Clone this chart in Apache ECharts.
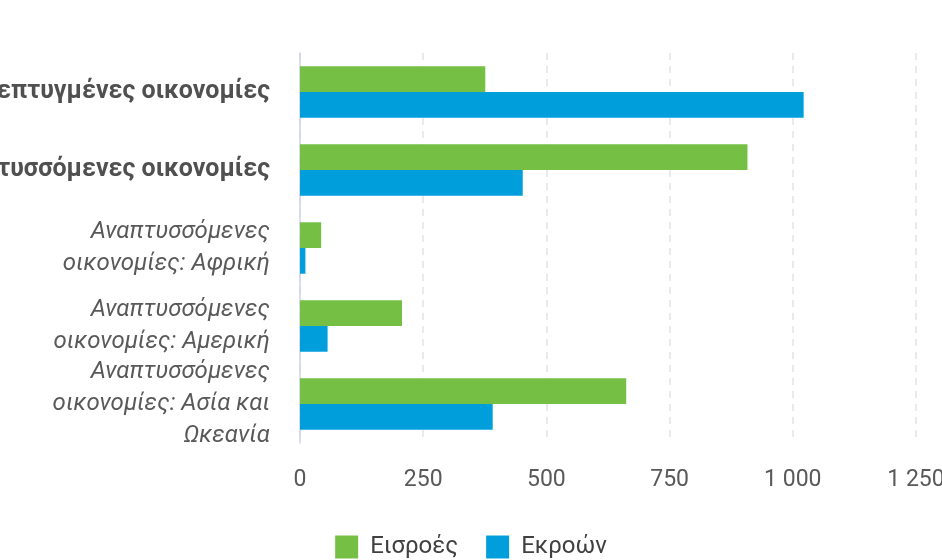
<!DOCTYPE html>
<html>
<head>
<meta charset="utf-8">
<script src="https://cdn.jsdelivr.net/npm/echarts@6/dist/echarts.min.js"></script>
<style>html,body{margin:0;padding:0;background:#fff}#c{width:942px;height:560px}</style>
</head>
<body>
<div id="c"></div>
<script>
const categories = [
  "Ανεπτυγμένες οικονομίες",
  "Αναπτυσσόμενες οικονομίες",
  "Αναπτυσσόμενες\nοικονομίες: Αφρική",
  "Αναπτυσσόμενες\nοικονομίες: Αμερική",
  "Αναπτυσσόμενες\nοικονομίες: Ασία και\nΩκεανία"
];
const boldCategories = [true, true, false, false, false];
const seriesNames = ["Εισροές", "Εκροών"];
const inflows = [376, 908, 43, 207, 662];
const outflows = [1022, 452, 11, 56, 391];
const xTicks = [0, 250, 500, 750, 1000, 1250];

const FONT = "Roboto";
const chart = echarts.init(document.getElementById('c'), null, {renderer: 'canvas'});
chart.setOption({
  animation: false,
  textStyle: {fontFamily: FONT},
  grid: {left: 300, right: 26, top: 53, bottom: 117, containLabel: false, outerBoundsMode: 'none'},
  legend: {
    data: seriesNames,
    bottom: -4,
    left: 'center',
    itemWidth: 23,
    itemHeight: 23,
    itemGap: 28,
    icon: 'rect',
    textStyle: {fontFamily: FONT, fontSize: 24, color: '#404040', padding: [0, 0, 0, 7]}
  },
  xAxis: {
    type: 'value',
    min: xTicks[0],
    max: xTicks[xTicks.length - 1],
    interval: 250,
    axisLine: {show: false},
    axisTick: {show: false},
    splitLine: {show: true, lineStyle: {color: '#e4e4e4', width: 1.5, type: [7, 6]}},
    axisLabel: {
      margin: 26,
      fontFamily: FONT,
      fontSize: 23,
      color: '#595959',
      formatter: v => String(v).replace(/\B(?=(\d{3})+(?!\d))/g, ' ')
    }
  },
  yAxis: {
    type: 'category',
    inverse: true,
    data: categories,
    axisLine: {show: true, lineStyle: {color: '#cdd2ea', width: 1.5}},
    axisTick: {show: false},
    splitLine: {show: false},
    axisLabel: {
      margin: 30,
      interval: 0,
      formatter: (v, idx) => {
        const style = boldCategories[idx] ? 'b' : 'i';
        return v.split('\n').map(l => '{' + style + '|' + l + '}').join('\n');
      },
      rich: {
        b: {fontFamily: FONT, fontSize: 25, fontWeight: 'bold', color: '#505050', align: 'right'},
        i: {fontFamily: FONT, fontSize: 24, fontStyle: 'italic', color: '#595959', lineHeight: 32, align: 'right'}
      }
    }
  },
  series: [
    {name: seriesNames[0], type: 'bar', data: inflows, itemStyle: {color: '#75bf44'}, barGap: '0%', barCategoryGap: '34%'},
    {name: seriesNames[1], type: 'bar', data: outflows, itemStyle: {color: '#009fdb'}, barGap: '0%', barCategoryGap: '34%'}
  ]
});
</script>
</body>
</html>
